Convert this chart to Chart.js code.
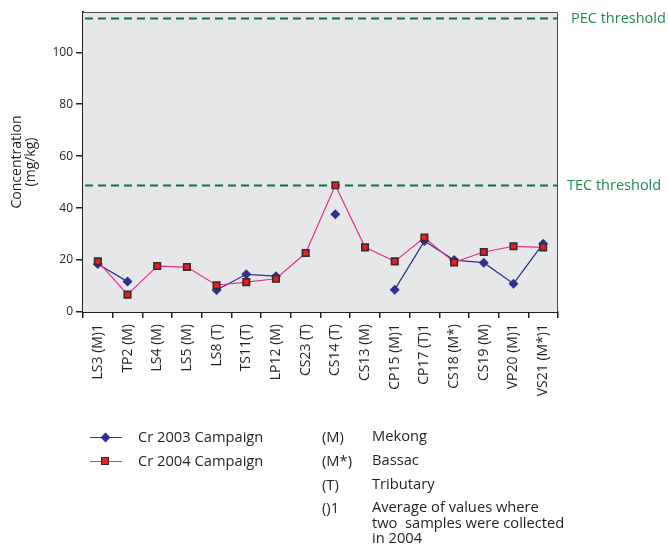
<!DOCTYPE html>
<html>
<head>
<meta charset="utf-8">
<script src="https://cdn.jsdelivr.net/npm/chart.js@4.4.1/dist/chart.umd.min.js"></script>
<style>
  html, body { margin:0; padding:0; background:#fff; }
  #wrap { position:relative; width:668px; height:546px; font-family:"Open Sans", sans-serif; color:#231f20; }
  canvas { position:absolute; left:0; top:0; }
  .lg { position:absolute; font-size:14.7px; line-height:16px; white-space:pre; }
  .ln { position:absolute; height:1px; width:32px; }
  .mk { position:absolute; }
</style>
</head>
<body>
<div id="wrap">
  <canvas id="c" width="668" height="546"></canvas>
</div>
<script>
const categories = ["LS3 (M)1","TP2 (M)","LS4 (M)","LS5 (M)","LS8 (T)","TS11(T)","LP12 (M)","CS23 (T)","CS14 (T)","CS13 (M)","CP15 (M)1","CP17 (T)1","CS18 (M*)","CS19 (M)","VP20 (M)1","VS21 (M*)1"];
const cr2003 = [18.5, 11.7, null, null, 8.5, 14.5, 13.8, null, 37.6, null, 8.6, 27.3, 20.0, 19.0, 10.9, 26.3];
const cr2004 = [19.5, 6.7, 17.7, 17.3, 10.3, 11.5, 12.8, 22.7, 48.8, 24.9, 19.5, 28.7, 19.1, 23.1, 25.3, 24.9];
const yTicks = [0, 20, 40, 60, 80, 100];
const yMax = 115.5;
const thresholds = [
  { label: "PEC threshold", value: 113.2 },
  { label: "TEC threshold", value: 49.0 }
];
const legendSeries = ["Cr 2003 Campaign", "Cr 2004 Campaign"];
const legendNotes = [["(M)", "Mekong"], ["(M*)", "Bassac"], ["(T)", "Tributary"], ["()1", "Average of values where\ntwo  samples were collected\nin 2004"]];

const FONT = "'Open Sans', sans-serif";
const GREEN_LINE = "#17703f";
const GREEN_TEXT = "#1f8a4c";
const LABEL_OFFSETS = [13, 9];

const plotDecor = {
  id: "plotDecor",
  beforeDatasetsDraw(chart) {
    const { ctx, chartArea: a } = chart;
    ctx.save();
    ctx.fillStyle = "#e6e7e9";
    ctx.fillRect(a.left, a.top, a.right - a.left, a.bottom - a.top);
    ctx.strokeStyle = "#4d4d4f";
    ctx.lineWidth = 1;
    ctx.beginPath();
    ctx.moveTo(a.left, a.top + 0.5);
    ctx.lineTo(a.right - 0.5, a.top + 0.5);
    ctx.lineTo(a.right - 0.5, a.bottom);
    ctx.stroke();
    const y = chart.scales.y;
    thresholds.forEach((t, i) => {
      const py = Math.round(y.getPixelForValue(t.value)) + 0.5;
      ctx.strokeStyle = GREEN_LINE;
      ctx.lineWidth = 2;
      ctx.setLineDash([8, 5]);
      ctx.beginPath();
      ctx.moveTo(a.left + 2, py);
      ctx.lineTo(a.right, py);
      ctx.stroke();
      ctx.setLineDash([]);
      ctx.fillStyle = GREEN_TEXT;
      ctx.font = "14.5px " + FONT;
      ctx.textBaseline = "middle";
      ctx.textAlign = "left";
      ctx.fillText(t.label, a.right + LABEL_OFFSETS[i], py);
    });
    ctx.restore();
  }
};

const chart = new Chart(document.getElementById("c"), {
  type: "line",
  data: {
    labels: categories,
    datasets: [
      {
        label: legendSeries[0], data: cr2003, order: 1,
        borderColor: "#2e3192", backgroundColor: "#2e3192", borderWidth: 1.2,
        pointStyle: "rectRot", pointRadius: 5, pointBorderWidth: 0, pointBackgroundColor: "#2e3192",
        spanGaps: false, tension: 0
      },
      {
        label: legendSeries[1], data: cr2004, order: 0,
        borderColor: "#e8308a", backgroundColor: "#e8202a", borderWidth: 1.2,
        pointStyle: "rect", pointRadius: 4.6, pointBorderWidth: 1.6, pointBorderColor: "#3a2a2a",
        pointBackgroundColor: "#ec1c24", tension: 0
      }
    ]
  },
  options: {
    responsive: false, animation: false,
    layout: { padding: { left: 0, right: 110, top: 12, bottom: 0 } },
    plugins: { legend: { display: false }, tooltip: { enabled: false } },
    scales: {
      x: {
        offset: true,
        grid: { offset: true, drawOnChartArea: false, drawTicks: true, tickLength: 6, color: "#231f20", lineWidth: 1.5 },
        border: { display: true, color: "#231f20", width: 2 },
        ticks: { minRotation: 90, maxRotation: 90, autoSkip: false, color: "#231f20", font: { family: FONT, size: 14 }, padding: 6 },
        afterFit(s) { s.height = 546 - 312; }
      },
      y: {
        min: 0, max: yMax,
        afterBuildTicks(s) { s.ticks = yTicks.map(v => ({ value: v })); },
        grid: { drawOnChartArea: false, drawTicks: true, tickLength: 7, color: "#231f20", lineWidth: 1.5 },
        border: { display: true, color: "#231f20", width: 2 },
        ticks: { color: "#231f20", font: { family: FONT, size: 12 }, padding: 3 },
        title: { display: true, text: ["Concentration", "(mg/kg)"], color: "#231f20", font: { family: FONT, size: 14, lineHeight: 1.0 }, padding: { top: 10, bottom: 4 } },
        afterFit(s) { s.width = 83; }
      }
    }
  },
  plugins: [plotDecor]
});

// HTML legend
const wrap = document.getElementById("wrap");
function add(el, css, text) {
  const d = document.createElement("div");
  d.className = el;
  Object.assign(d.style, css);
  if (text !== undefined) d.textContent = text;
  wrap.appendChild(d);
  return d;
}
const rows = [437, 461];
const colors = [["#2e3192", "#2e3192"], ["#e8308a", "#ec1c24"]];
legendSeries.forEach((name, i) => {
  const y = rows[i];
  add("ln", { left: "90px", top: (y - 0.5) + "px", background: colors[i][0] });
  if (i === 0) {
    add("mk", { left: "101.5px", top: (y - 3.5) + "px", width: "7px", height: "7px", background: colors[i][1], transform: "rotate(45deg)" });
  } else {
    add("mk", { left: "101px", top: (y - 4) + "px", width: "6px", height: "6px", background: colors[i][1], border: "1px solid #3a2a2a" });
  }
  add("lg", { left: "138px", top: (y - 9) + "px" }, name);
});
const noteRows = [437, 461, 485, 508];
legendNotes.forEach((n, i) => {
  const y = noteRows[i];
  add("lg", { left: "322px", top: (y - 9) + "px" }, n[0]);
  add("lg", { left: "372px", top: (y - 9) + "px", lineHeight: "15.5px" }, n[1]);
});
</script>
</body>
</html>
